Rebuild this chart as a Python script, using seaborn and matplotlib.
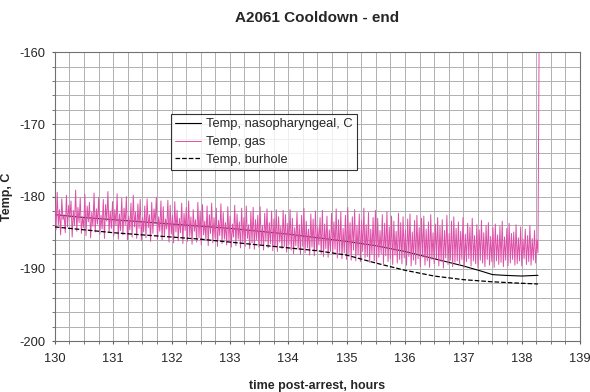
import numpy as np
import pandas as pd
import matplotlib
matplotlib.use("Agg")
import matplotlib.pyplot as plt
import seaborn as sns

# nasopharyngeal temperature (solid black)
naso_t = [130.0, 130.5, 131.0, 131.5, 132.0, 132.5, 133.0, 133.5, 134.0, 134.5,
          135.0, 135.5, 136.0, 136.5, 137.0, 137.3, 137.5, 137.7, 138.0, 138.28]
naso_v = [-182.5, -182.9, -183.2, -183.5, -183.8, -184.1, -184.4, -184.8, -185.2, -185.7,
          -186.2, -186.8, -187.6, -188.6, -189.6, -190.3, -190.8, -190.9, -191.0, -190.9]

# burhole temperature (dashed)
bur_t = [130.0, 130.5, 131.0, 131.5, 132.0, 132.5, 133.0, 133.5, 134.0, 134.5,
         135.0, 135.5, 136.0, 136.5, 137.0, 137.5, 138.0, 138.28]
bur_v = [-184.2, -184.6, -185.0, -185.3, -185.6, -185.9, -186.3, -186.7, -187.1, -187.5,
         -188.1, -189.2, -190.2, -191.0, -191.5, -191.8, -192.0, -192.1]

gas_v = [
    -181.0, -184.6, -179.4, -183.9, -181.8, -185.3, -180.3, -183.2, -182.5, -185.0,
    -179.8, -184.2, -181.2, -182.9, -180.6, -185.6, -181.9, -184.0, -179.1, -184.8,
    -181.5, -183.6, -180.2, -185.1, -182.8, -184.3, -179.7, -185.4, -181.3, -183.5,
    -180.8, -185.7, -182.2, -184.1, -179.5, -184.9, -181.7, -183.8, -180.1, -185.2,
    -182.6, -184.5, -180.4, -185.8, -181.1, -183.4, -179.3, -185.0, -182.0, -184.4,
    -180.7, -185.5, -181.8, -184.0, -179.6, -185.9, -182.4, -184.7, -180.2, -185.3,
    -181.6, -183.9, -180.0, -186.0, -182.7, -184.6, -180.9, -185.6, -179.8, -184.2,
    -182.1, -185.8, -181.0, -184.4, -180.4, -186.1, -182.9, -184.9, -181.3, -185.7,
    -180.3, -184.3, -182.5, -186.2, -180.8, -185.1, -181.7, -183.8, -180.1, -185.9,
    -182.8, -184.8, -180.6, -186.0, -181.4, -185.4, -183.1, -184.5, -180.5, -186.3,
    -181.2, -185.2, -182.6, -186.4, -180.7, -184.9, -181.9, -186.1, -183.0, -185.0,
    -180.9, -186.5, -182.3, -184.7, -181.5, -186.2, -180.6, -185.5, -182.8, -186.6,
    -181.8, -184.8, -183.2, -186.3, -180.8, -185.7, -182.0, -186.7, -181.1, -185.3,
    -183.4, -186.0, -181.3, -186.8, -182.5, -185.1, -180.9, -186.4, -182.9, -185.8,
    -181.6, -186.9, -183.3, -185.4, -181.0, -186.5, -182.2, -185.9, -183.6, -186.7,
    -181.4, -186.1, -182.7, -187.0, -183.8, -185.6, -181.2, -186.8, -182.4, -185.9,
    -183.5, -187.1, -181.6, -186.3, -182.9, -186.9, -181.3, -185.8, -183.9, -187.2,
    -182.1, -186.4, -181.5, -187.3, -183.2, -186.0, -182.6, -187.0, -181.4, -186.6,
    -184.0, -187.4, -182.3, -186.2, -181.7, -187.1, -183.6, -186.5, -182.0, -187.5,
    -183.1, -186.8, -181.8, -187.6, -182.8, -186.3, -184.1, -187.2, -181.9, -186.9,
    -182.5, -187.7, -183.7, -186.6, -181.8, -187.4, -183.0, -187.9, -184.3, -186.8,
    -182.2, -187.3, -183.9, -188.0, -182.6, -186.9, -181.6, -187.8, -183.4, -187.1,
    -184.5, -188.1, -182.4, -187.0, -183.1, -188.2, -182.0, -187.5, -184.2, -186.7,
    -182.9, -187.9, -181.9, -188.3, -183.8, -187.2, -182.7, -188.4, -184.6, -187.6,
    -182.3, -188.0, -183.5, -187.3, -181.7, -188.5, -183.2, -187.7, -182.1, -188.6,
    -184.4, -187.8, -182.6, -188.7, -181.5, -187.9, -183.6, -188.8, -182.8, -187.4,
    -181.8, -188.9, -184.0, -188.1, -182.4, -189.0, -183.3, -187.6, -181.6, -188.5,
    -183.9, -188.3, -182.2, -189.1, -184.5, -188.0, -182.9, -188.9, -181.9, -189.2,
    -183.0, -188.4, -184.7, -187.9, -182.5, -189.3, -183.7, -188.2, -182.1, -189.0,
    -184.2, -188.6, -182.7, -189.4, -183.4, -188.1, -184.8, -189.2, -182.3, -188.7,
    -183.6, -189.3, -182.8, -188.5, -184.6, -189.5, -183.1, -188.3, -182.4, -189.6,
    -184.9, -188.8, -183.3, -189.4, -182.6, -188.6, -184.3, -189.7, -183.0, -188.4,
    -182.7, -189.5, -184.5, -188.9, -183.5, -189.8, -182.5, -188.7, -185.0, -189.3,
    -183.8, -188.6, -182.9, -189.6, -184.1, -189.0, -183.2, -189.9, -184.7, -188.5,
    -182.6, -189.4, -185.1, -188.8, -183.4, -189.7, -182.8, -189.1, -184.4, -188.9,
    -183.5, -189.5, -184.8, -188.7, -182.9, -189.8, -185.2, -189.0, -183.7, -188.6,
    -184.2, -189.6, -183.0, -188.9, -185.4, -189.3, -183.9, -189.9, -184.6, -188.8,
    -183.3, -189.2, -185.0, -189.7, -184.0, -188.7, -183.6, -189.5, -185.5, -189.0,
    -184.3, -189.8, -183.8, -188.9, -185.3, -189.4, -184.1, -189.1, -183.4, -189.7,
    -185.6, -188.8, -184.4, -189.6, -183.7, -189.2, -185.1, -188.7, -184.9, -189.5,
    -183.9, -189.3, -185.7, -188.9, -184.2, -189.6, -185.9, -188.6, -184.5, -189.4,
    -185.4, -189.0, -184.0, -189.5, -185.8, -188.8, -184.7, -189.2, -186.0, -187.8,
]
gas_t = list(np.linspace(130.0, 138.28, len(gas_v)))
# sensor spike at the very end
gas_t.append(138.30)
gas_v.append(-158.0)

sns.set_style("white")
plt.rcParams['font.family'] = ['Liberation Sans', 'DejaVu Sans']
plt.rcParams['axes.unicode_minus'] = False

fig = plt.figure(figsize=(5.9, 3.92), dpi=100)
ax = fig.add_axes([0.093, 0.130, 0.890, 0.737])

naso = pd.DataFrame({"t": naso_t, "v": naso_v})
gas = pd.DataFrame({"t": gas_t, "v": gas_v})
bur = pd.DataFrame({"t": bur_t, "v": bur_v})

sns.lineplot(data=naso, x="t", y="v", ax=ax, color="black", linewidth=0.8,
             label="Temp, nasopharyngeal, C", zorder=3)
sns.lineplot(data=gas, x="t", y="v", ax=ax, color="#de50a8", linewidth=0.7,
             label="Temp, gas", zorder=4)
sns.lineplot(data=bur, x="t", y="v", ax=ax, color="black", linewidth=0.9,
             linestyle="--", dashes=(3, 2), label="Temp, burhole", zorder=5)

ax.set_xlim(130, 139)
ax.set_ylim(-200, -160)
ax.set_xticks(np.arange(130, 140, 1))
ax.set_xticks(np.arange(130, 139.01, 0.25), minor=True)
ax.set_yticks(np.arange(-200, -159, 10))
ax.set_yticks(np.arange(-200, -159, 2), minor=True)
ax.grid(True, which="both", color="#b0b0b0", linewidth=0.7)
ax.set_axisbelow(True)
ax.tick_params(which="both", direction="out", length=2.5, color="#606060",
               labelsize=9.3, bottom=True, left=True)
ax.tick_params(axis="x", pad=6)
ax.tick_params(axis="y", pad=4.5)
for s in ax.spines.values():
    s.set_color("#707070")
    s.set_linewidth(0.8)

ax.set_title("A2061 Cooldown - end", fontsize=11, fontweight="bold", pad=22)
ax.set_xlabel("time post-arrest, hours", fontsize=9, fontweight="bold")
ax.set_ylabel("Temp, C", fontsize=9, fontweight="bold")
ax.xaxis.set_label_coords(0.5, -0.135)
ax.yaxis.set_label_coords(-0.08, 0.5)

leg = ax.legend(loc="upper left", bbox_to_anchor=(0.222, 0.785), borderaxespad=0,
                fontsize=9.3, frameon=True, fancybox=False, handlelength=2.0,
                handletextpad=0.4, labelspacing=0.45, borderpad=0.3)
leg.get_frame().set_edgecolor("black")
leg.get_frame().set_linewidth(0.8)

fig.savefig("out.png", dpi=100)
